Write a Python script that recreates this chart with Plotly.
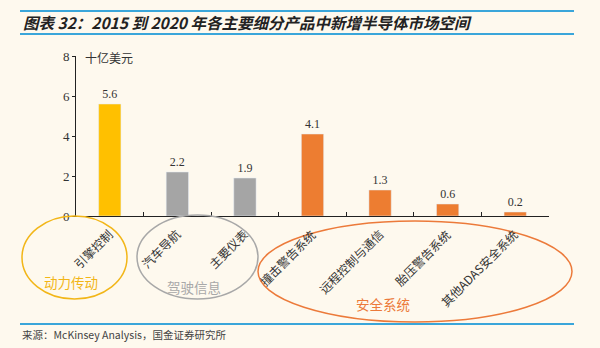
import plotly.graph_objects as go

categories = ["引擎控制", "汽车导航", "主要仪表", "撞击警告系统", "远程控制与通信", "胎压警告系统", "其他ADAS安全系统"]
values = [5.6, 2.2, 1.9, 4.1, 1.3, 0.6, 0.2]
bar_colors = ["#FFC000", "#A5A5A5", "#A5A5A5", "#ED7D31", "#ED7D31", "#ED7D31", "#ED7D31"]
y_ticks = [0, 2, 4, 6, 8]
title_text = "图表 32：2015 到 2020 年各主要细分产品中新增半导体市场空间"
unit_text = "十亿美元"
source_text = "来源：McKinsey Analysis，国金证券研究所"
groups = ["动力传动", "驾驶信息", "安全系统"]

W, H = 600, 348
L, R, T, B = 76, 51, 56, 132
PW, PH = W - L - R, H - T - B
BG = "#FEF9EE"
CJK = "Noto Sans CJK SC"
SERIF = "Liberation Serif"


def px(x):
    return (x - L) / PW


def py(y):
    return (H - B - y) / PH


fig = go.Figure()
fig.add_trace(go.Bar(
    x=categories, y=values, marker_color=bar_colors, width=0.33,
    text=[f"{v:.1f}" for v in values], textposition="outside",
    textfont=dict(family=SERIF, size=12, color="#333333"),
    cliponaxis=False, hoverinfo="skip",
))

shapes = []
# blue rules
for y in (11, 34, 324):
    shapes.append(dict(type="line", xref="paper", yref="paper",
                       x0=px(20), x1=px(574), y0=py(y), y1=py(y),
                       line=dict(color="#3AA6DA", width=2)))
# ellipses
ell = [
    (22, 216, 127, 299, "#F2B618", groups[0], 71, 282),
    (137, 215, 258, 299, "#A8A8A8", groups[1], 194, 287),
    (258, 221, 572, 322, "#EC7A3A", groups[2], 383, 304),
]
annotations = []
for x0, y0, x1, y1, c, name, tx, ty in ell:
    shapes.append(dict(type="circle", xref="paper", yref="paper",
                       x0=px(x0), x1=px(x1), y0=py(y1), y1=py(y0),
                       line=dict(color=c, width=1.5), layer="above"))
    annotations.append(dict(text=name, xref="paper", yref="paper",
                            x=px(tx), y=py(ty), xanchor="center", yanchor="middle",
                            showarrow=False,
                            font=dict(family=CJK, size=13.5, color=c)))

# rotated category labels
for cat in categories:
    annotations.append(dict(text=cat, xref="x", yref="paper", x=cat, y=py(223),
                            xanchor="right", yanchor="top", textangle=-45, xshift=9,
                            showarrow=False, font=dict(family=CJK, size=12, color="#333333")))

annotations.append(dict(text="<b><i>" + title_text + "</i></b>", xref="paper", yref="paper",
                        x=px(21), y=py(22), xanchor="left", yanchor="middle", showarrow=False,
                        font=dict(family=CJK, size=15.5, color="#222222")))
annotations.append(dict(text=unit_text, xref="paper", yref="paper",
                        x=px(83), y=py(57), xanchor="left", yanchor="middle", showarrow=False,
                        font=dict(family=CJK, size=12, color="#333333")))
annotations.append(dict(text=source_text, xref="paper", yref="paper",
                        x=px(20), y=py(334), xanchor="left", yanchor="middle", showarrow=False,
                        font=dict(family=CJK, size=10.5, color="#444444")))

fig.update_layout(
    width=W, height=H, margin=dict(l=L, r=R, t=T, b=B),
    paper_bgcolor=BG, plot_bgcolor=BG, showlegend=False,
    shapes=shapes, annotations=annotations,
    xaxis=dict(type="category", range=[-0.5, len(categories) - 0.5], autorange=False,
               showline=True, linecolor="#222222", linewidth=1,
               ticks="inside", ticklen=4, tickcolor="#222222", tickson="boundaries",
               showticklabels=False, showgrid=False),
    yaxis=dict(range=[0, 8], tickvals=y_ticks, showline=True, linecolor="#222222", linewidth=1,
               ticks="outside", ticklen=3, tickcolor="#222222", showgrid=False, zeroline=False,
               tickfont=dict(family=SERIF, size=13, color="#333333")),
)

fig.write_html("out.html")
